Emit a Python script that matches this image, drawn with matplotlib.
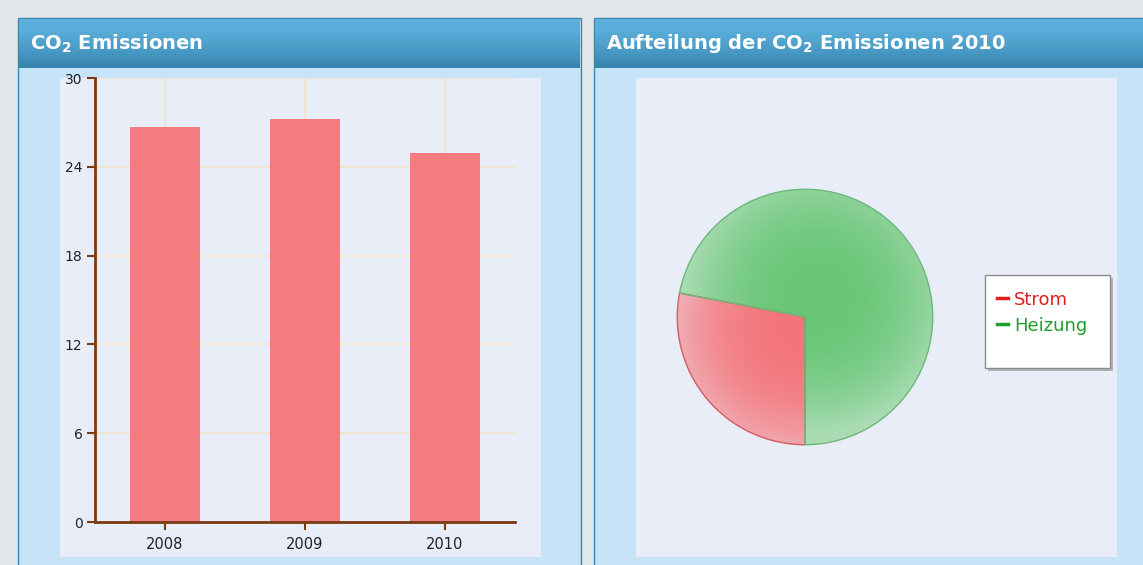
import numpy as np
import matplotlib.pyplot as plt
from matplotlib.patches import Rectangle
from matplotlib.lines import Line2D
from matplotlib.colors import to_rgb

# data
years = ['2008', '2009', '2010']
emissions = [26.7, 27.2, 24.9]
y_ticks = [0, 6, 12, 18, 24, 30]

share_labels = ['Strom', 'Heizung']
share_values = [28, 72]

W, H = 1143, 565


def box(x0, y0, x1, y1):
    """pixel box (top-left origin) -> figure fraction [l, b, w, h]"""
    return [x0 / W, 1 - y1 / H, (x1 - x0) / W, (y1 - y0) / H]


def rect(x0, y0, x1, y1, **kw):
    l, b, w, h = box(x0, y0, x1, y1)
    r = Rectangle((l, b), w, h, transform=fig.transFigure, **kw)
    fig.patches.append(r)
    return r


def panel(x0, x1, title):
    # panel body + border
    rect(x0, 18, x1, 566, facecolor='#c6e3f7', edgecolor='#3c86b0', linewidth=1, zorder=-3)
    # header with vertical gradient
    hax = fig.add_axes(box(x0 + 1, 19, x1 - 1, 68))
    top, bot = np.array(to_rgb('#5db1dc')), np.array(to_rgb('#3583af'))
    t = np.linspace(0, 1, 50)[:, None]
    grad = top + (bot - top) * (t ** 1.6)[:, :, None] * np.ones((1, 2, 1))
    hax.imshow(grad, aspect='auto', extent=[0, 1, 0, 1])
    hax.axis('off')
    hax.text(11 / (x1 - x0), 0.50, title, color='white', fontsize=14,
             fontweight='bold', va='center', ha='left', transform=hax.transAxes)
    # inner chart background
    rect(x0 + 42, 78, x0 + 523, 557, facecolor='#e8edf7', edgecolor='none', zorder=-2)


fig = plt.figure(figsize=(W / 100, H / 100), dpi=100)
fig.patch.set_facecolor('#e2e7eb')

panel(18, 581, r'CO$_\mathbf{2}$ Emissionen')
panel(594, 1160, r'Aufteilung der CO$_\mathbf{2}$ Emissionen 2010')

# ---- bar chart ----
axis_col = '#7a3a12'
ax1 = fig.add_axes(box(95, 78, 515, 522))
ax1.set_facecolor('none')
x = np.arange(len(years))
ax1.bar(x, emissions, width=0.5, color='#f5767b', alpha=0.95, zorder=2)
ax1.set_xlim(-0.5, 2.5)
ax1.set_ylim(0, 30)
ax1.set_yticks(y_ticks)
ax1.set_xticks(x)
ax1.set_xticklabels(years)
ax1.grid(True, color='#f2e4c6', linewidth=1.2, zorder=0)
ax1.set_axisbelow(True)
for s in ['top', 'right']:
    ax1.spines[s].set_visible(False)
for s in ['left', 'bottom']:
    ax1.spines[s].set_color(axis_col)
    ax1.spines[s].set_linewidth(2)
ax1.tick_params(axis='both', colors=axis_col, labelcolor='#222222', labelsize=10,
                length=6, width=1.5)
ax1.tick_params(axis='x', pad=5, labelsize=10.5)
ax1.tick_params(axis='y', pad=3)

# ---- pie chart ----
ax2 = fig.add_axes(box(805 - 129, 317 - 129, 805 + 129, 317 + 129))
wedges, _ = ax2.pie(share_values, startangle=270, counterclock=False,
                    colors=['none', 'none'], radius=1)
grad_cfg = [('#f4757a', '#efbcc4', '#d85a62'), ('#68c676', '#aadcb4', '#6cb87a')]
yy, xx = np.mgrid[-1:1:300j, -1:1:300j]
for w, (c_in, c_out, c_edge) in zip(wedges, grad_cfg):
    ci, co = np.array(to_rgb(c_in)), np.array(to_rgb(c_out))
    if c_in == '#68c676':
        rr = np.hypot(xx - 0.1, yy - 0.15)
    else:
        rr = np.hypot(xx + 0.05, yy + 0.1)
    tt = np.clip(rr / 1.05, 0, 1) ** 2.4
    img = ci + (co - ci) * tt[:, :, None]
    im = ax2.imshow(img, extent=[-1, 1, -1, 1], origin='lower', zorder=1)
    im.set_clip_path(w)
    w.set_edgecolor(c_edge)
    w.set_linewidth(1)
    w.set_zorder(2)
ax2.set_xlim(-1.01, 1.01)
ax2.set_ylim(-1.01, 1.01)
ax2.set_aspect('equal')
ax2.axis('off')

# legend box with shadow
rect(988, 278, 1113, 371, facecolor='#8a8a8a', edgecolor='none', alpha=0.6, zorder=3)
rect(985, 275, 1110, 368, facecolor='white', edgecolor='#8c8c8c', linewidth=1, zorder=4)
leg_colors = ['#e01e1e', '#1e9e2a']
handles = [Line2D([], [], color=c, lw=2.5) for c in leg_colors]
leg = fig.legend(handles, share_labels, loc='upper left',
                 bbox_to_anchor=(984 / W, 1 - 278 / H), frameon=False,
                 fontsize=13, handlelength=0.65, handletextpad=0.3,
                 labelspacing=0.45, borderpad=0.2)
leg.set_zorder(5)
for txt, c in zip(leg.get_texts(), leg_colors):
    txt.set_color(c)

fig.savefig('out.png', dpi=100)
